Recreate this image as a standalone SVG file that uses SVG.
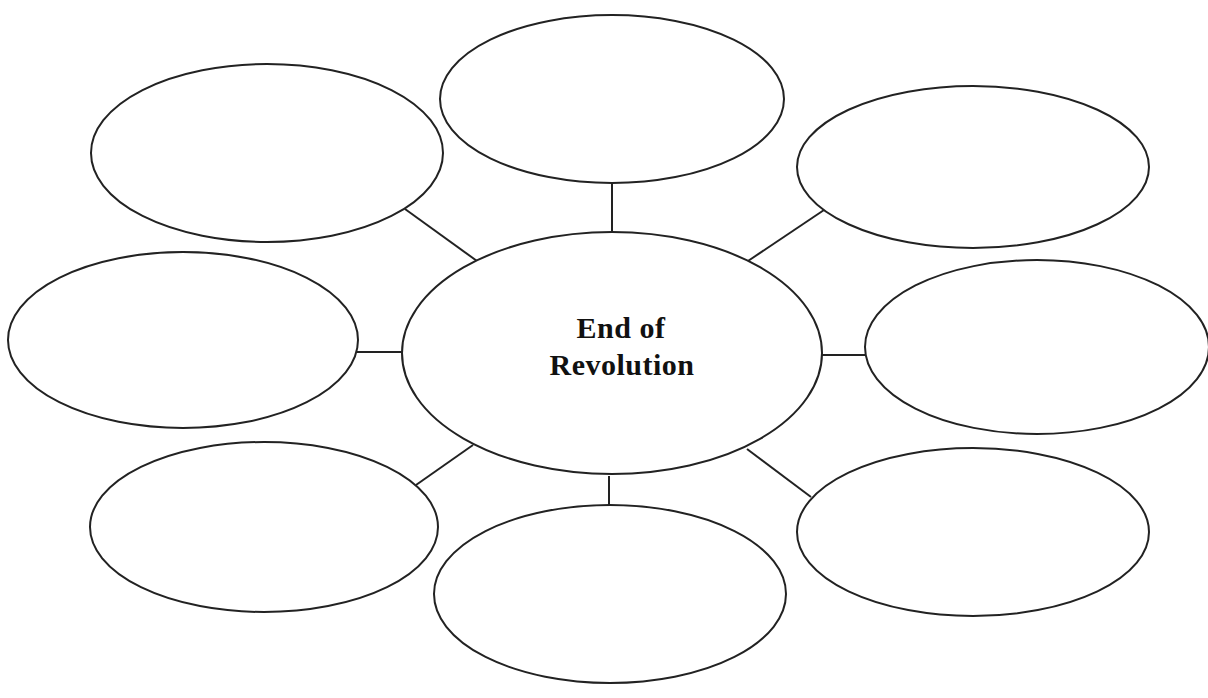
<svg xmlns="http://www.w3.org/2000/svg" width="1208" height="698" viewBox="0 0 1208 698">
<style>
.node ellipse{fill:#fff;stroke:#222;stroke-width:2}
.conn line{stroke:#222;stroke-width:2}
.lbl{font-family:"Liberation Serif","Times New Roman",serif;font-weight:bold;font-size:30px;letter-spacing:0.5px;fill:#111;text-anchor:middle}
</style>
<rect width="1208" height="698" fill="#fff"/>
<g id="connectors" class="conn">
<line x1="612" y1="183" x2="612" y2="233"/>
<line x1="405" y1="209" x2="477" y2="261"/>
<line x1="827" y1="208" x2="748" y2="261"/>
<line x1="357" y1="352" x2="402" y2="352"/>
<line x1="822" y1="355" x2="866" y2="355"/>
<line x1="416" y1="485" x2="473" y2="445"/>
<line x1="609" y1="476" x2="609" y2="522"/>
<line x1="747" y1="449" x2="811" y2="497"/>
</g>
<g id="center" class="node"><ellipse cx="612" cy="353" rx="210" ry="121"/>
<text class="lbl" x="621" y="338">End of</text>
<text class="lbl" x="622" y="375">Revolution</text></g>
<g id="top" class="node"><ellipse cx="612" cy="99" rx="172" ry="84"/></g>
<g id="top-left" class="node"><ellipse cx="267" cy="153" rx="176" ry="89"/></g>
<g id="top-right" class="node"><ellipse cx="973" cy="167" rx="176" ry="81"/></g>
<g id="left" class="node"><ellipse cx="183" cy="340" rx="175" ry="88"/></g>
<g id="right" class="node"><ellipse cx="1037" cy="347" rx="172" ry="87"/></g>
<g id="bottom-left" class="node"><ellipse cx="264" cy="527" rx="174" ry="85"/></g>
<g id="bottom" class="node"><ellipse cx="610" cy="594" rx="176" ry="89"/></g>
<g id="bottom-right" class="node"><ellipse cx="973" cy="532" rx="176" ry="84"/></g>
</svg>
